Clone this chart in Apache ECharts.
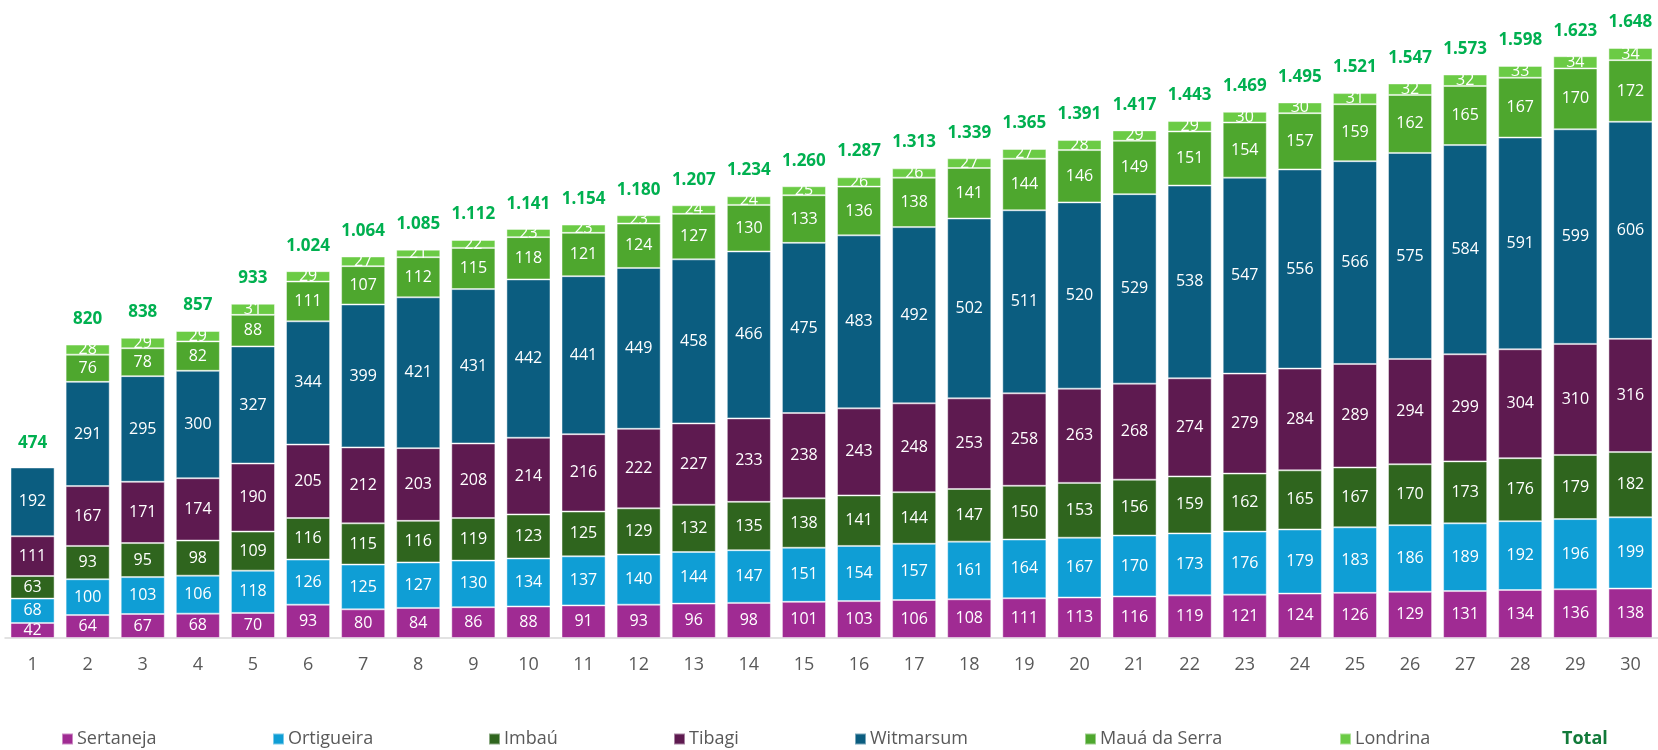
<!DOCTYPE html>
<html>
<head>
<meta charset="utf-8">
<script src="https://cdn.jsdelivr.net/npm/echarts@6/dist/echarts.min.js"></script>
<style>
  html, body { margin: 0; padding: 0; background: #fff; }
  #main { width: 1658px; height: 750px; }
</style>
</head>
<body>
<div id="main"></div>
<script>
var categories = ['1','2','3','4','5','6','7','8','9','10','11','12','13','14','15','16','17','18','19','20','21','22','23','24','25','26','27','28','29','30'];

var sertaneja  = [42,64,67,68,70,93,80,84,86,88,91,93,96,98,101,103,106,108,111,113,116,119,121,124,126,129,131,134,136,138];
var ortigueira = [68,100,103,106,118,126,125,127,130,134,137,140,144,147,151,154,157,161,164,167,170,173,176,179,183,186,189,192,196,199];
var imbau      = [63,93,95,98,109,116,115,116,119,123,125,129,132,135,138,141,144,147,150,153,156,159,162,165,167,170,173,176,179,182];
var tibagi     = [111,167,171,174,190,205,212,203,208,214,216,222,227,233,238,243,248,253,258,263,268,274,279,284,289,294,299,304,310,316];
var witmarsum  = [192,291,295,300,327,344,399,421,431,442,441,449,458,466,475,483,492,502,511,520,529,538,547,556,566,575,584,591,599,606];
var maua       = [null,76,78,82,88,111,107,112,115,118,121,124,127,130,133,136,138,141,144,146,149,151,154,157,159,162,165,167,170,172];
var londrina   = [null,28,29,29,31,29,27,21,22,23,23,23,24,24,25,26,26,27,27,28,29,29,30,30,31,32,32,33,34,34];
var totals     = [474,820,838,857,933,1024,1064,1085,1112,1141,1154,1180,1207,1234,1260,1287,1313,1339,1365,1391,1417,1443,1469,1495,1521,1547,1573,1598,1623,1648];

var seriesNames = ['Sertaneja','Ortigueira','Imbaú','Tibagi','Witmarsum','Mauá da Serra','Londrina'];
var seriesData  = [sertaneja, ortigueira, imbau, tibagi, witmarsum, maua, londrina];
var colors      = ['#A02B93','#0F9ED5','#2F651E','#5E1A50','#0B5D80','#4EA72E','#6BCB45'];
var legendLeft  = [61, 272, 488, 673, 854, 1084, 1339];

var FONT = '"Open Sans", sans-serif';

function fmt(n) {
    return String(n).replace(/\B(?=(\d{3})+(?!\d))/g, '.');
}

var series = seriesNames.map(function (name, i) {
    return {
        name: name,
        type: 'bar',
        stack: 'total',
        barWidth: '80%',
        data: seriesData[i],
        itemStyle: {
            color: colors[i],
            borderColor: 'rgba(255,255,255,0.45)',
            borderWidth: 1
        },
        label: {
            show: true,
            position: 'inside',
            color: '#fff',
            fontFamily: FONT,
            fontSize: 16
        }
    };
});

// totals drawn as labels of an invisible line
series.push({
    name: 'Total',
    type: 'line',
    data: totals,
    symbol: 'circle',
    symbolSize: 2,
    showSymbol: true,
    itemStyle: { color: 'rgba(0,0,0,0)' },
    lineStyle: { color: 'rgba(0,0,0,0)', width: 0 },
    label: {
        show: true,
        position: 'top',
        distance: 16,
        color: '#00B050',
        fontFamily: FONT,
        fontWeight: 'bold',
        fontSize: 17,
        formatter: function (p) { return fmt(p.value); }
    },
    z: 5
});

var legends = seriesNames.map(function (name, i) {
    return {
        data: [name],
        left: legendLeft[i],
        top: 730,
        icon: 'rect',
        itemWidth: 11,
        itemHeight: 11,
        itemGap: 5,
        padding: 0,
        selectedMode: false,
        textStyle: { color: '#595959', fontFamily: FONT, fontSize: 18, padding: [0, 0, 0, -1] }
    };
});
legends.push({
    data: [{ name: 'Total', icon: 'none' }],
    left: 1557,
    top: 730,
    itemWidth: 0,
    itemHeight: 11,
    padding: 0,
    selectedMode: false,
    textStyle: { color: '#127A3A', fontFamily: FONT, fontSize: 18, fontWeight: 'bold' }
});

var myChart = echarts.init(document.getElementById('main'));
var option = {
    animation: false,
    legend: legends,
    grid: { left: 5, top: 29, width: 1658, height: 609, containLabel: false },
    xAxis: {
        type: 'category',
        data: categories,
        axisLine: { lineStyle: { color: '#D9D9D9', width: 1.5 } },
        axisTick: { show: false },
        axisLabel: { color: '#595959', fontFamily: FONT, fontSize: 18, margin: 18 }
    },
    yAxis: {
        type: 'value',
        min: 0,
        max: 1700,
        show: false,
        splitLine: { show: false }
    },
    series: series
};
myChart.setOption(option);
</script>
</body>
</html>
